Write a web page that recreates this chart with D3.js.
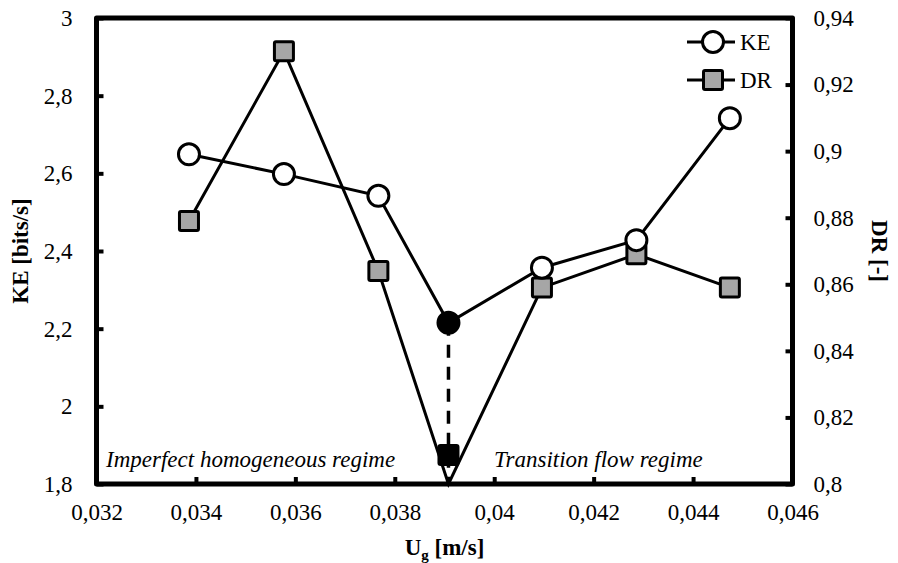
<!DOCTYPE html>
<html>
<head>
<meta charset="utf-8">
<script src="https://cdn.jsdelivr.net/npm/d3@7"></script>
<style>
  html, body { margin: 0; padding: 0; background: #fff; }
  svg { display: block; }
  text { font-family: "Liberation Serif", "Times New Roman", serif; fill: #000; }
</style>
</head>
<body>
<svg id="chart" width="898" height="563"></svg>
<script>
// Superficial gas velocity and the two measured series
const ugValues = [0.03386, 0.03577, 0.03767, 0.03908, 0.04096, 0.04286, 0.04474];
const keValues = [2.649, 2.598, 2.542, 2.215, 2.357, 2.428, 2.742];
const drValues = [0.879, 0.930, 0.864, 0.800, 0.859, 0.869, 0.859];
// Regime transition point (highlighted markers)
const transitionIndex = 3;
const transitionUg = 0.03908;
const transitionKE = 2.215;
const transitionDR = 0.8087;

const xTicks = [0.032, 0.034, 0.036, 0.038, 0.040, 0.042, 0.044, 0.046];
const keTicks = [1.8, 2.0, 2.2, 2.4, 2.6, 2.8, 3.0];
const drTicks = [0.80, 0.82, 0.84, 0.86, 0.88, 0.90, 0.92, 0.94];

const svg = d3.select("#chart");
const plotLeft = 96.5, plotRight = 792.5, plotTop = 18, plotBottom = 484;

const x = d3.scaleLinear().domain([0.032, 0.046]).range([plotLeft, plotRight]);
const yKE = d3.scaleLinear().domain([1.8, 3.0]).range([plotBottom, plotTop]);
const yDR = d3.scaleLinear().domain([0.80, 0.94]).range([plotBottom, plotTop]);

const comma = v => String(+v.toFixed(4)).replace(".", ",");
const fontSize = 23;

// Axes with inward ticks
const axisStyle = g => {
  g.select(".domain").remove();
  g.selectAll(".tick line").attr("stroke", "#000").attr("stroke-width", 4);
  g.selectAll(".tick text").style("font-size", fontSize + "px")
    .style("font-family", "'Liberation Serif', 'Times New Roman', serif")
    .attr("fill", "#000");
};

svg.append("g").attr("transform", `translate(0,${plotBottom})`)
  .call(d3.axisBottom(x).tickValues(xTicks).tickFormat(comma).tickSizeInner(-7).tickSizeOuter(0).tickPadding(20))
  .call(axisStyle);

svg.append("g").attr("transform", `translate(${plotLeft},0)`)
  .call(d3.axisLeft(yKE).tickValues(keTicks).tickFormat(comma).tickSizeInner(-7).tickSizeOuter(0).tickPadding(24))
  .call(axisStyle);

svg.append("g").attr("transform", `translate(${plotRight},0)`)
  .call(d3.axisRight(yDR).tickValues(drTicks).tickFormat(comma).tickSizeInner(-7).tickSizeOuter(0).tickPadding(21))
  .call(axisStyle);

// Plot frame
svg.append("rect")
  .attr("x", plotLeft).attr("y", plotTop)
  .attr("width", plotRight - plotLeft).attr("height", plotBottom - plotTop)
  .attr("fill", "none").attr("stroke", "#000").attr("stroke-width", 5)
  .attr("stroke-linejoin", "round");

// Axis titles
svg.append("text")
  .attr("transform", `translate(28,${(plotTop + plotBottom) / 2}) rotate(-90)`)
  .attr("text-anchor", "middle")
  .style("font-size", "23px").style("font-weight", "bold")
  .text("KE [bits/s]");

svg.append("text")
  .attr("transform", `translate(872,${(plotTop + plotBottom) / 2}) rotate(90)`)
  .attr("text-anchor", "middle")
  .style("font-size", "23px").style("font-weight", "bold")
  .text("DR [-]");

const xTitle = svg.append("text")
  .attr("x", (plotLeft + plotRight) / 2).attr("y", 555)
  .attr("text-anchor", "middle")
  .style("font-size", "23px").style("font-weight", "bold");
xTitle.append("tspan").text("U");
xTitle.append("tspan").attr("dy", 5).style("font-size", "15px").text("g");
xTitle.append("tspan").attr("dy", -5).text(" [m/s]");

// Regime annotations
svg.append("text").attr("x", 106).attr("y", 467)
  .style("font-size", "23px").style("font-style", "italic")
  .text("Imperfect homogeneous regime");
svg.append("text").attr("x", 494).attr("y", 467)
  .style("font-size", "23px").style("font-style", "italic")
  .text("Transition flow regime");

// Dashed drop line at the transition velocity
svg.append("line")
  .attr("x1", x(transitionUg)).attr("x2", x(transitionUg))
  .attr("y1", yKE(transitionKE)).attr("y2", yDR(0.80))
  .attr("stroke", "#000").attr("stroke-width", 3.5)
  .attr("stroke-dasharray", "13,9");

// Series lines
const keLine = d3.line().x((d, i) => x(ugValues[i])).y(d => yKE(d));
const drLine = d3.line().x((d, i) => x(ugValues[i])).y(d => yDR(d));

svg.append("path").datum(drValues).attr("d", drLine)
  .attr("fill", "none").attr("stroke", "#000").attr("stroke-width", 3);
svg.append("path").datum(keValues).attr("d", keLine)
  .attr("fill", "none").attr("stroke", "#000").attr("stroke-width", 3);

const sq = 19;
// DR markers
svg.append("g").selectAll("rect")
  .data(drValues.map((v, i) => ({ v, i })).filter(d => d.i !== transitionIndex))
  .join("rect")
  .attr("x", d => x(ugValues[d.i]) - sq / 2).attr("y", d => yDR(d.v) - sq / 2)
  .attr("width", sq).attr("height", sq).attr("rx", 1.5)
  .attr("fill", "#a6a6a6").attr("stroke", "#000").attr("stroke-width", 3);

svg.append("rect")
  .attr("x", x(transitionUg) - sq / 2).attr("y", yDR(transitionDR) - sq / 2)
  .attr("width", sq).attr("height", sq).attr("rx", 1.5)
  .attr("fill", "#000").attr("stroke", "#000").attr("stroke-width", 3);

// KE markers
svg.append("g").selectAll("circle")
  .data(keValues.map((v, i) => ({ v, i })).filter(d => d.i !== transitionIndex))
  .join("circle")
  .attr("cx", d => x(ugValues[d.i])).attr("cy", d => yKE(d.v))
  .attr("r", 10.5)
  .attr("fill", "#fff").attr("stroke", "#000").attr("stroke-width", 3);

svg.append("circle")
  .attr("cx", x(transitionUg)).attr("cy", yKE(transitionKE))
  .attr("r", 10.5).attr("fill", "#000").attr("stroke", "#000").attr("stroke-width", 3);

// Legend
const legend = svg.append("g");
const legendItems = [
  { name: "KE", y: 42, shape: "circle" },
  { name: "DR", y: 80, shape: "square" }
];
legendItems.forEach(item => {
  legend.append("line").attr("x1", 687).attr("x2", 735)
    .attr("y1", item.y).attr("y2", item.y)
    .attr("stroke", "#000").attr("stroke-width", 3);
  if (item.shape === "circle") {
    legend.append("circle").attr("cx", 713).attr("cy", item.y).attr("r", 10.5)
      .attr("fill", "#fff").attr("stroke", "#000").attr("stroke-width", 3);
  } else {
    legend.append("rect").attr("x", 713 - sq / 2).attr("y", item.y - sq / 2)
      .attr("width", sq).attr("height", sq).attr("rx", 1.5)
      .attr("fill", "#a6a6a6").attr("stroke", "#000").attr("stroke-width", 3);
  }
  legend.append("text").attr("x", 740).attr("y", item.y).attr("dy", "0.35em")
    .style("font-size", "23px").text(item.name);
});
</script>
</body>
</html>
